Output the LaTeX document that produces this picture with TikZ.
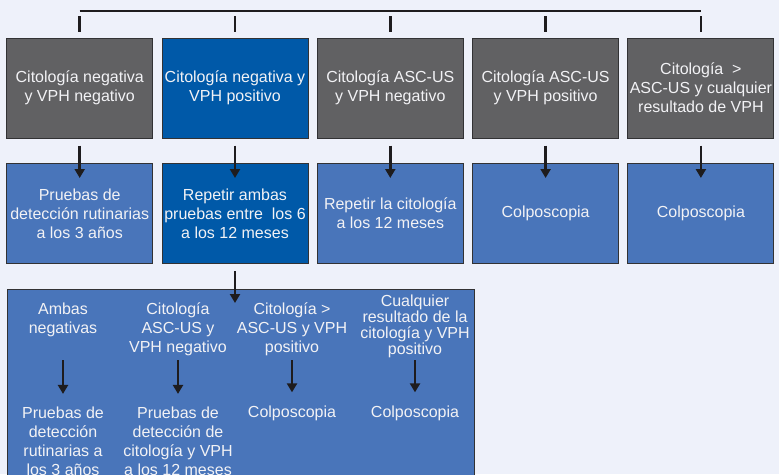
\documentclass[tikz,border=0pt]{standalone}
\usepackage{fontspec}
\setmainfont{Liberation Sans}
\usetikzlibrary{arrows.meta}

\definecolor{bgtint}{RGB}{238,241,250}
\definecolor{boxgrey}{RGB}{97,97,99}
\definecolor{darkblue}{RGB}{0,89,168}
\definecolor{midblue}{RGB}{73,117,186}
\definecolor{boxline}{RGB}{50,50,52}
\definecolor{linedark}{RGB}{30,28,30}
\definecolor{boxtext}{RGB}{242,242,245}

\tikzset{
  box/.style={draw=boxline, line width=1pt, minimum width=146pt, minimum height=100pt,
    align=center, inner sep=0pt, text=boxtext,
    font=\fontsize{16}{19}\selectfont},
  greybox/.style={box, fill=boxgrey},
  darkbox/.style={box, fill=darkblue},
  bluebox/.style={box, fill=midblue},
  arr/.style={-{Triangle[width=10pt,length=9pt]}, line width=2.5pt, draw=linedark},
  tick/.style={line width=2.5pt, draw=linedark},
  txt/.style={text=boxtext, align=center, inner sep=0pt,
    font=\fontsize{16}{19}\selectfont},
}

\begin{document}
\begin{tikzpicture}[x=1pt, y=-1pt, node distance=155.3pt]
    \clip (0,0) rectangle (779,474);
    \fill[bgtint] (0,0) rectangle (779,474);

    % first row
    \node[greybox] (t1) at (79.7,88) {Citología negativa\\y VPH negativo};
    \node[darkbox] (t2) [right of=t1] {Citología negativa y\\VPH positivo};
    \node[greybox] (t3) [right of=t2] {Citología ASC-US\\y VPH negativo};
    \node[greybox] (t4) [right of=t3] {Citología ASC-US\\y VPH positivo};
    \node[greybox] (t5) [right of=t4] {Citología\ \ >\\ASC-US y cualquier\\resultado de VPH};

    % second row
    \node[bluebox] (b1) at (79.7,213.5) {Pruebas de\\detección rutinarias\\a los 3 años};
    \node[darkbox] (b2) [right of=b1] {Repetir ambas\\pruebas entre\ \ los 6\\a los 12 meses};
    \node[bluebox] (b3) [right of=b2] {Repetir la citología\\a los 12 meses};
    \node[bluebox] (b4) [right of=b3] {Colposcopia};
    \node[bluebox] (b5) [right of=b4] {Colposcopia};

    % bracket on top
    \draw[tick] ([yshift=26.5pt]t1.north) -- ([yshift=26.5pt]t5.north);
    \foreach \i in {1,...,5} {
      \draw[tick] ([yshift=6pt]t\i.north) -- ([yshift=22pt]t\i.north);
      \draw[arr] ([yshift=-7pt]t\i.south) -- ([yshift=-15pt]b\i.north);
    }

    % result box
    \node[draw=boxline, line width=1pt, fill=midblue, minimum width=467pt,
      minimum height=230pt, inner sep=0pt, anchor=north west] (res) at (7,289) {};
    \draw[arr] ([yshift=-7pt]b2.south) -- ([yshift=-14pt]b2.south |- res.north);

    \node[txt] (u1) at (63,319.5) {Ambas\\negativas};
    \node[txt] (u2) at (178,329) {Citología\\ASC-US y\\VPH negativo};
    \node[txt] (u3) at (292,329) {Citología >\\ASC-US y VPH\\positivo};
    \node[txt, font=\fontsize{16}{16}\selectfont] (u4) at (415,326)
      {Cualquier\\resultado de la\\citología y VPH\\positivo};

    \node[txt] (v1) at (63,441.5) {Pruebas de\\detección\\rutinarias a\\los 3 años};
    \node[txt] (v2) at (178,441.5) {Pruebas de\\detección de\\citología y VPH\\a los 12 meses};
    \node[txt] (v3) at (292,413) {Colposcopia};
    \node[txt] (v4) at (415,413) {Colposcopia};

    \foreach \i/\x in {1/63,2/178,3/292,4/415} {
      \coordinate (k\i) at (\x,360);
      \draw[arr, shorten >=13pt] (k\i) -- (k\i |- v\i.north);
    }
\end{tikzpicture}
\end{document}
